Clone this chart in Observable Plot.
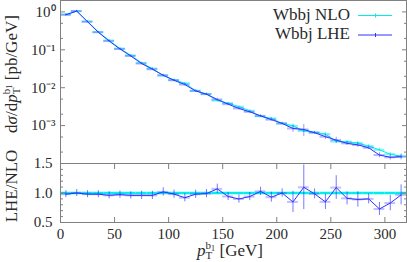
<!DOCTYPE html>
<html><head><meta charset="utf-8">
<script src="https://cdn.jsdelivr.net/npm/d3@7"></script>
<script src="https://cdn.jsdelivr.net/npm/@observablehq/plot@0.6"></script>
<style>
body{margin:0;background:#fff;}
#wrap{position:relative;width:407px;height:262px;overflow:hidden;font-family:"Liberation Serif",serif;}
#wrap svg{position:absolute;left:0;}
#wrap svg text{font-family:"Liberation Serif",serif !important;}
</style></head><body><div id="wrap"></div>
<script>
// bins (GeV)
const binLow  = [0,10,20,30,40,50,60,70,80,90,100,110,120,130,140,150,160,170,180,190,200,210,220,230,240,250,260,270,280,290,300,310];
const binHigh = [10,20,30,40,50,60,70,80,90,100,110,120,130,140,150,160,170,180,190,200,210,220,230,240,250,260,270,280,290,300,310,320];
// dsigma/dpT [pb/GeV]
const nloValues = [0.857,1.05,0.561,0.296,0.177,0.108,0.0716,0.0452,0.032,0.0209,0.016,0.01315,0.00837,0.00682,0.00457,0.00391,0.00316,0.00246,0.00176,0.00155,0.00114,0.00099,0.00072,0.00066,0.0006,0.00038,0.000374,0.000348,0.000289,0.000229,0.000176,0.000156];
const lheValues = [0.84,1.05,0.55,0.29,0.17,0.105,0.0687,0.0434,0.0307,0.0213,0.0157,0.0121,0.0082,0.00675,0.00489,0.00368,0.00284,0.00231,0.00181,0.00144,0.00114,0.00084,0.00079,0.00065,0.00051,0.000415,0.00034,0.00031,0.00026,0.000167,0.000146,0.000151];
// relative uncertainties
const nloRelErr = [0.02,0.02,0.02,0.025,0.025,0.03,0.03,0.03,0.035,0.035,0.04,0.04,0.04,0.045,0.045,0.05,0.05,0.055,0.055,0.06,0.06,0.12,0.08,0.07,0.1,0.08,0.08,0.09,0.09,0.1,0.1,0.1];
const lheRelErr = [0.061,0.06,0.061,0.061,0.063,0.062,0.063,0.073,0.073,0.069,0.071,0.076,0.071,0.071,0.075,0.074,0.078,0.074,0.068,0.091,0.07,0.21,0.345,0.086,0.153,0.183,0.121,0.146,0.094,0.151,0.157,0.175];
// ticks
const xTicks = [0,50,100,150,200,250,300];
const yMainTicks = [1e-4,1e-3,1e-2,1e-1,1];
const yMainMinor = [2e-4,5e-4,2e-3,5e-3,2e-2,5e-2,0.2,0.5];
const yRatioTicks = [0.5,1.0,1.5];
const yRatioMinor = [0.6,0.7,0.8,0.9,1.1,1.2,1.3,1.4];
const seriesNames = ["Wbbj NLO","Wbbj LHE"];

const data = binLow.map((lo,i)=>{
  const d = {lo, hi: binHigh[i], c:(lo+binHigh[i])/2, nlo: nloValues[i], lhe: lheValues[i]};
  d.nloErr = d.nlo*nloRelErr[i]; d.lheErr = d.lhe*lheRelErr[i];
  d.ratio = d.lhe/d.nlo; d.ratioErr = d.lheErr/d.nlo; d.one = d.nlo/d.nlo;
  return d;
});

const FRAME = "#808080", TXT = "#2a2a2a";
const CYAN = "#00eeee", BLUE = "#3030ff";
const FONT = "'Liberation Serif', serif";
const supDigits = "⁰¹²³⁴⁵⁶⁷⁸⁹";
const sup = s => String(s).replace(/-/g,"⁻").replace(/\d/g, c => supDigits[+c]);

const wrap = document.getElementById("wrap");

const main = Plot.plot({
  width: 407, height: 163,
  marginTop: 0, marginBottom: 0, marginLeft: 60, marginRight: 1,
  style: {background: "transparent", fontFamily: FONT, fontSize: "15px", color: TXT, overflow: "visible"},
  x: {domain: [0,320], axis: null},
  y: {type: "log", domain: [1e-4, 2]},
  marks: [
    Plot.ruleY(data, {y: "nlo", x1: "lo", x2: "hi", stroke: CYAN, strokeOpacity: 0.5, strokeWidth: 2}),
    Plot.ruleX(data, {x: "c", y1: d=>d.nlo-d.nloErr, y2: d=>d.nlo+d.nloErr, stroke: CYAN, strokeOpacity: 0.6, strokeWidth: 1.2}),
    Plot.line(data, {x: "c", y: "nlo", stroke: CYAN, strokeWidth: 1}),
    Plot.ruleY(data, {y: "lhe", x1: "lo", x2: "hi", stroke: BLUE, strokeOpacity: 0.35, strokeWidth: 2}),
    Plot.ruleX(data, {x: "c", y1: d=>d.lhe-d.lheErr, y2: d=>d.lhe+d.lheErr, stroke: BLUE, strokeOpacity: 0.5, strokeWidth: 1}),
    Plot.line(data, {x: "c", y: "lhe", stroke: BLUE, strokeWidth: 1}),
    Plot.axisY({ticks: yMainMinor, anchor: "left", tickSize: -3, tickFormat: () => "", stroke: FRAME, label: null}),
    Plot.axisY({ticks: yMainMinor, anchor: "right", tickSize: -3, tickFormat: () => "", stroke: FRAME, label: null}),
    Plot.axisY({ticks: yMainTicks, anchor: "right", tickSize: -5, tickFormat: () => "", stroke: FRAME, label: null}),
    Plot.axisY({ticks: yMainTicks.slice(1), anchor: "left", tickSize: -5, tickPadding: 10, stroke: FRAME, fill: TXT, fontSize: 15, fontFamily: FONT,
      tickFormat: d => "10" + sup(Math.round(Math.log10(d))), label: null}),
    Plot.frame({stroke: FRAME})
  ]
});
main.style.top = "0px";
wrap.appendChild(main);

const ratio = Plot.plot({
  width: 407, height: 112,
  marginTop: 13, marginBottom: 40, marginLeft: 60, marginRight: 1,
  style: {background: "transparent", fontFamily: FONT, fontSize: "15px", color: TXT, overflow: "visible"},
  x: {domain: [0,320]},
  y: {domain: [0.5, 1.5]},
  clip: true,
  marks: [
    Plot.ruleY(data, {y: "one", x1: "lo", x2: "hi", stroke: CYAN, strokeWidth: 2.5}),
    Plot.ruleY(data, {y: "ratio", x1: "lo", x2: "hi", stroke: BLUE, strokeOpacity: 0.3, strokeWidth: 2}),
    Plot.ruleX(data, {x: "c", y1: d=>d.ratio-d.ratioErr, y2: d=>d.ratio+d.ratioErr, stroke: BLUE, strokeOpacity: 0.65, strokeWidth: 1}),
    Plot.line(data, {x: "c", y: "ratio", stroke: BLUE, strokeWidth: 1}),
    Plot.axisY({ticks: yRatioMinor, anchor: "left", tickSize: -3, tickFormat: () => "", stroke: FRAME, label: null}),
    Plot.axisY({ticks: yRatioMinor, anchor: "right", tickSize: -3, tickFormat: () => "", stroke: FRAME, label: null}),
    Plot.axisY({ticks: yRatioTicks, anchor: "right", tickSize: -5, tickFormat: () => "", stroke: FRAME, label: null}),
    Plot.axisY({ticks: yRatioTicks, anchor: "left", tickSize: -5, tickPadding: 13, tickFormat: d3.format(".1f"), stroke: FRAME, fill: TXT, fontSize: 15, fontFamily: FONT, label: null}),
    Plot.axisX({ticks: xTicks, anchor: "top", tickSize: -5, tickFormat: () => "", stroke: FRAME, label: null}),
    Plot.axisX({ticks: xTicks, anchor: "bottom", tickSize: -5, tickPadding: 11, stroke: FRAME, fill: TXT, fontSize: 15, fontFamily: FONT, label: null}),
    Plot.frame({stroke: FRAME})
  ]
});
ratio.style.top = "150px";
wrap.appendChild(ratio);

// overlay: axis titles and legend
const ov = d3.select(wrap).append("svg").attr("width",407).attr("height",262)
  .style("top","0px").style("pointer-events","none")
  .attr("font-family", FONT).attr("fill", TXT);

function rich(g, parts){
  parts.forEach(([t, a]) => {
    const ts = g.append("tspan").text(t);
    Object.entries(a||{}).forEach(([k,v]) => ts.attr(k,v));
  });
}
// y title main
rich(ov.append("text").attr("transform","translate(17,74) rotate(-90)").attr("text-anchor","middle").attr("font-size",17), [
  ["d"],["σ",{"font-style":"italic"}],["/d"],["p",{"font-style":"italic"}],
  ["b",{"font-size":11,dy:-7}],["1",{"font-size":8,dy:2}],
  ["T",{"font-size":11,dx:-9.5,dy:8}],[" [pb/GeV]",{dx:3,dy:-3}]
]);
// y title ratio
ov.append("text").attr("transform","translate(17,186) rotate(-90)").attr("text-anchor","middle").attr("font-size",17).text("LHE/NLO");
// x title
rich(ov.append("text").attr("x",230).attr("y",256).attr("text-anchor","middle").attr("font-size",17), [
  ["p",{"font-style":"italic"}],
  ["b",{"font-size":11,dy:-7}],["1",{"font-size":8,dy:2}],
  ["T",{"font-size":11,dx:-9.5,dy:8}],[" [GeV]",{dx:3,dy:-3}]
]);
// legend
const legColors = [CYAN, BLUE];
seriesNames.forEach((name,i) => {
  const y = 15 + i*19.5;
  ov.append("text").attr("x",350).attr("y",y+4.5).attr("text-anchor","end").attr("font-size",17).text(name);
  ov.append("line").attr("x1",358).attr("x2",392).attr("y1",y+0.5).attr("y2",y+0.5).attr("stroke",legColors[i]).attr("stroke-width",1);
  ov.append("line").attr("x1",375.5).attr("x2",375.5).attr("y1",y-1.5).attr("y2",y+2.5).attr("stroke",legColors[i]).attr("stroke-width",1);
});
</script></body></html>
